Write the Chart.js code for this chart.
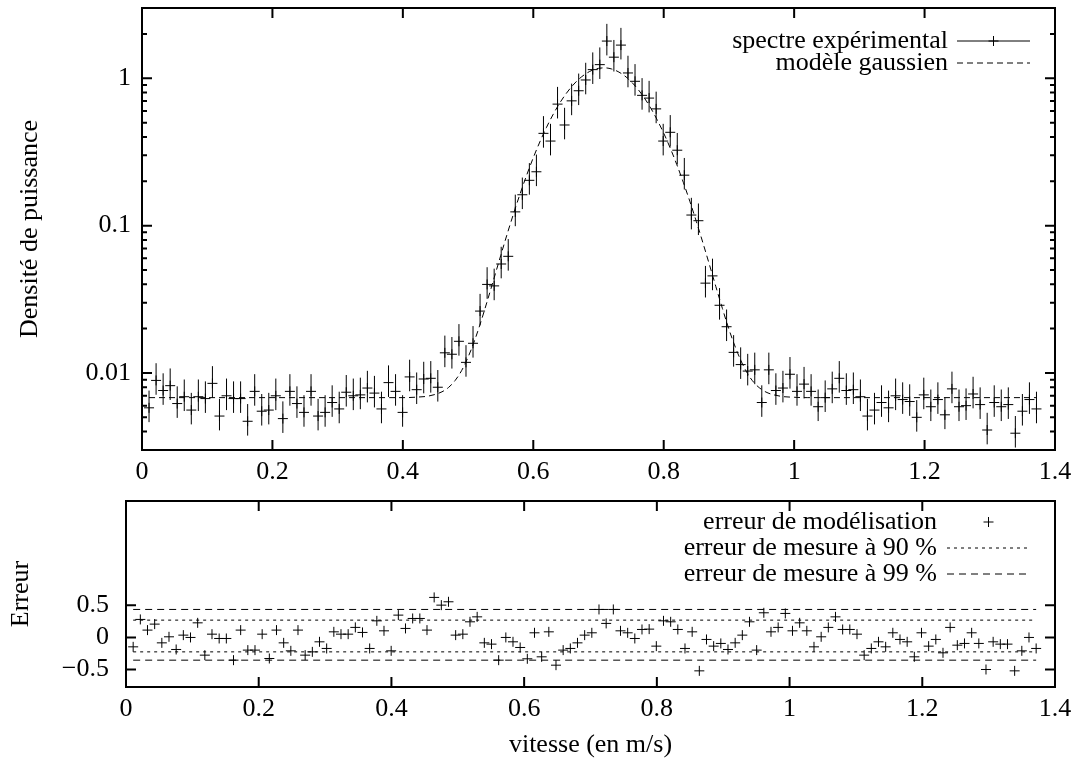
<!DOCTYPE html>
<html>
<head>
<meta charset="utf-8">
<script src="https://cdn.jsdelivr.net/npm/chart.js@4.4.1/dist/chart.umd.min.js"></script>
<style>
  html, body { margin: 0; padding: 0; background: #fff; }
  #wrap { position: relative; width: 1079px; height: 763px; }
  canvas { position: absolute; left: 0; }
  #spectre { top: 0; }
  #erreur { top: 490px; }
</style>
</head>
<body>
<div id="wrap">
  <canvas id="spectre" width="1079" height="490"></canvas>
  <canvas id="erreur" width="1079" height="273"></canvas>
</div>
<script>
// vitesse (m/s) of every spectral bin
const vitesse = [
  0.0108, 0.0216, 0.0324, 0.0432, 0.054, 0.0648, 0.0756, 0.0864, 0.0972, 0.108,
  0.1188, 0.1296, 0.1404, 0.1512, 0.162, 0.1728, 0.1836, 0.1944, 0.2052, 0.216,
  0.2268, 0.2376, 0.2484, 0.2592, 0.27, 0.2808, 0.2916, 0.3024, 0.3132, 0.324,
  0.3348, 0.3456, 0.3564, 0.3672, 0.378, 0.3888, 0.3996, 0.4104, 0.4212, 0.432,
  0.4428, 0.4536, 0.4644, 0.4752, 0.486, 0.4968, 0.5076, 0.5184, 0.5292, 0.54,
  0.5508, 0.5616, 0.5724, 0.5832, 0.594, 0.6048, 0.6156, 0.6264, 0.6372, 0.648,
  0.6588, 0.6696, 0.6804, 0.6912, 0.702, 0.7128, 0.7236, 0.7344, 0.7452, 0.756,
  0.7668, 0.7776, 0.7884, 0.7992, 0.81, 0.8208, 0.8316, 0.8424, 0.8532, 0.864,
  0.8748, 0.8856, 0.8964, 0.9072, 0.918, 0.9288, 0.9396, 0.9504, 0.9612, 0.972,
  0.9828, 0.9936, 1.0044, 1.0152, 1.026, 1.0368, 1.0476, 1.0584, 1.0692, 1.08,
  1.0908, 1.1016, 1.1124, 1.1232, 1.134, 1.1448, 1.1556, 1.1664, 1.1772, 1.188,
  1.1988, 1.2096, 1.2204, 1.2312, 1.242, 1.2528, 1.2636, 1.2744, 1.2852, 1.296,
  1.3068, 1.3176, 1.3284, 1.3392, 1.35, 1.3608, 1.3716
];

// measured power density
const spectre = [
  0.0058, 0.0089, 0.0076, 0.0082, 0.0062, 0.0069, 0.0056, 0.0069, 0.0067, 0.0085,
  0.0051, 0.0070, 0.0067, 0.0067, 0.0047, 0.0075, 0.0055, 0.0056, 0.0070, 0.0049,
  0.0075, 0.0062, 0.0054, 0.0075, 0.0051, 0.0054, 0.0063, 0.0057, 0.0074, 0.0070,
  0.0071, 0.0079, 0.0073, 0.0057, 0.0086, 0.0075, 0.0054, 0.0094, 0.0077, 0.0091,
  0.0092, 0.0080, 0.0137, 0.0134, 0.0164, 0.0118, 0.0159, 0.0263, 0.0399, 0.0390,
  0.0549, 0.0619, 0.124, 0.162, 0.203, 0.232, 0.423, 0.375, 0.668, 0.482,
  0.703, 0.823, 0.974, 1.145, 1.238, 1.789, 1.391, 1.68, 1.087, 0.954,
  0.766, 0.734, 0.620, 0.375, 0.430, 0.325, 0.220, 0.118, 0.108, 0.0407,
  0.0456, 0.0288, 0.0206, 0.0138, 0.0114, 0.0103, 0.0105, 0.0063, 0.0105, 0.0076,
  0.0079, 0.0098, 0.0075, 0.0084, 0.0075, 0.0059, 0.0068, 0.0078, 0.0092, 0.0076,
  0.0077, 0.0069, 0.0051, 0.0056, 0.0063, 0.0058, 0.0070, 0.0066, 0.0064, 0.0050,
  0.0071, 0.0059, 0.0066, 0.0052, 0.0078, 0.0059, 0.0060, 0.0072, 0.0061, 0.0041,
  0.0063, 0.0059, 0.0061, 0.0039, 0.0055, 0.0066, 0.0057
];

// gaussian model
const modeleX = [
  0.0108, 0.38, 0.40, 0.42, 0.44,
  0.46, 0.47, 0.48, 0.49, 0.50, 0.51, 0.52, 0.53, 0.54, 0.55,
  0.56, 0.57, 0.58, 0.59, 0.60, 0.61, 0.62, 0.63, 0.64, 0.65,
  0.66, 0.67, 0.68, 0.69, 0.70, 0.71, 0.72, 0.73, 0.74, 0.75,
  0.76, 0.77, 0.78, 0.79, 0.80, 0.81, 0.82, 0.83, 0.84, 0.85,
  0.86, 0.87, 0.88, 0.89, 0.90, 0.91, 0.92, 0.93, 0.94, 0.95,
  0.96, 0.98, 1.00, 1.02, 1.3716
];
const modeleY = [
  0.0068, 0.0068, 0.0068, 0.00685, 0.00698,
  0.00745, 0.00797, 0.00887, 0.01036, 0.0128, 0.01661, 0.0225, 0.03136, 0.0442, 0.06253,
  0.0878, 0.1215, 0.1655, 0.221, 0.289, 0.3695, 0.462, 0.564, 0.673, 0.783,
  0.890, 0.988, 1.070, 1.132, 1.168, 1.177, 1.157, 1.110, 1.040, 0.950,
  0.848, 0.739, 0.629, 0.522, 0.424, 0.336, 0.260, 0.197, 0.1465, 0.1068,
  0.0767, 0.0545, 0.0385, 0.0274, 0.0198, 0.0149, 0.0117, 0.00967, 0.00845, 0.00773,
  0.00731, 0.00694, 0.00684, 0.0068, 0.0068
];

// modelling error (log ratio data / model)
const erreur = [
  -0.146, 0.280, 0.114, 0.207, -0.084, 0.010, -0.187, 0.036, 0.000, 0.227,
  -0.275, 0.051, -0.016, -0.016, -0.353, 0.114, -0.197, -0.197, 0.051, -0.327,
  0.114, -0.084, -0.208, 0.114, -0.275, -0.224, -0.068, -0.171, 0.087, 0.051,
  0.051, 0.156, 0.078, -0.171, 0.258, 0.103, -0.208, 0.347, 0.140, 0.295,
  0.295, 0.114, 0.622, 0.502, 0.554, 0.036, 0.051, 0.243, 0.320, -0.084,
  -0.104, -0.353, 0.000, -0.068, -0.156, -0.332, 0.072, -0.301, 0.087, -0.431,
  -0.197, -0.171, -0.084, 0.036, 0.072, 0.435, 0.218, 0.435, 0.103, 0.072,
  -0.016, 0.124, 0.129, -0.135, 0.258, 0.243, 0.124, -0.171, 0.087, -0.519,
  -0.031, -0.135, -0.093, -0.187, -0.084, 0.036, 0.243, -0.197, 0.383, 0.087,
  0.156, 0.373, 0.103, 0.227, 0.103, -0.146, 0.010, 0.156, 0.320, 0.124,
  0.124, 0.051, -0.275, -0.171, -0.068, -0.146, 0.072, -0.031, -0.068, -0.301,
  0.072, -0.135, -0.031, -0.239, 0.156, -0.120, -0.093, 0.072, -0.093, -0.498,
  -0.068, -0.104, -0.104, -0.519, -0.208, 0.000, -0.171
];

// measurement error bounds (log ratio)
const mesure90 = [-0.224, 0.269];
const mesure99 = [-0.353, 0.435];

// axis ticks
const xTicks = [0, 0.2, 0.4, 0.6, 0.8, 1, 1.2, 1.4];
const yTicksSpectre = [0.01, 0.1, 1];
const yTicksErreur = [-0.5, 0, 0.5];

Chart.defaults.font.family = "'Liberation Serif', 'Times New Roman', serif";
Chart.defaults.font.size = 26;
Chart.defaults.color = '#000';

const FONT = "26px 'Liberation Serif', 'Times New Roman', serif";

// gnuplot style border with inward + mirrored ticks
const frame = {
  id: 'frame',
  afterDraw(chart) {
    const { ctx, chartArea: a, scales } = chart;
    ctx.save();
    ctx.strokeStyle = '#000';
    ctx.lineWidth = 2;
    ctx.strokeRect(a.left, a.top, a.right - a.left, a.bottom - a.top);
    ctx.beginPath();
    scales.x.ticks.forEach(t => {
      const px = scales.x.getPixelForValue(t.value);
      ctx.moveTo(px, a.bottom); ctx.lineTo(px, a.bottom - 10);
      ctx.moveTo(px, a.top); ctx.lineTo(px, a.top + 10);
    });
    scales.y.ticks.forEach(t => {
      const py = scales.y.getPixelForValue(t.value);
      const len = t.label ? 10 : 5;
      ctx.moveTo(a.left, py); ctx.lineTo(a.left + len, py);
      ctx.moveTo(a.right, py); ctx.lineTo(a.right - len, py);
    });
    ctx.stroke();
    ctx.restore();
  }
};

// vertical error bars on the spectrum
const errorBars = {
  id: 'errorBars',
  afterDatasetsDraw(chart) {
    const { ctx } = chart;
    chart.data.datasets.forEach((ds, i) => {
      if (!ds.bounds) return;
      const meta = chart.getDatasetMeta(i);
      const y = chart.scales.y;
      ctx.save();
      ctx.strokeStyle = '#000';
      ctx.lineWidth = 1;
      ctx.beginPath();
      ds.data.forEach((p, j) => {
        const px = meta.data[j].x;
        ctx.moveTo(px, y.getPixelForValue(p.y * Math.exp(ds.bounds[1])));
        ctx.lineTo(px, y.getPixelForValue(p.y * Math.exp(ds.bounds[0])));
      });
      ctx.stroke();
      ctx.restore();
    });
  }
};

// gnuplot style key: right aligned text, sample on the right
const key = {
  id: 'key',
  afterDraw(chart, args, opts) {
    const { ctx } = chart;
    ctx.save();
    ctx.font = FONT;
    ctx.fillStyle = '#000';
    ctx.strokeStyle = '#000';
    ctx.textAlign = 'right';
    ctx.textBaseline = 'middle';
    opts.rows.forEach((r, i) => {
      const ds = chart.data.datasets[r];
      const y = opts.top + i * opts.spacing;
      ctx.fillText(ds.label, opts.textRight, y);
      ctx.lineWidth = 1;
      if (ds.keyLine) {
        ctx.setLineDash(ds.borderDash || []);
        ctx.beginPath();
        ctx.moveTo(opts.x0, y); ctx.lineTo(opts.x1, y);
        ctx.stroke();
        ctx.setLineDash([]);
      }
      if (ds.pointRadius) {
        const cx = (opts.x0 + opts.x1) / 2, s = ds.pointRadius;
        ctx.beginPath();
        ctx.moveTo(cx - s, y); ctx.lineTo(cx + s, y);
        ctx.moveTo(cx, y - s); ctx.lineTo(cx, y + s);
        ctx.stroke();
      }
    });
    ctx.restore();
  }
};

function xScale(h, title) {
  return {
    type: 'linear', min: 0, max: 1.4,
    grid: { display: false, drawTicks: false }, border: { display: false },
    afterBuildTicks: s => { s.ticks = xTicks.map(v => ({ value: v })); },
    ticks: { padding: 7, maxRotation: 0, autoSkip: false, callback: v => String(v) },
    title: title ? { display: true, text: title, padding: { top: 0, bottom: 2 } } : { display: false },
    afterFit: s => { s.height = h; s.paddingLeft = 0; s.paddingRight = 0; }
  };
}

new Chart(document.getElementById('spectre'), {
  type: 'scatter',
  data: {
    datasets: [
      {
        label: 'spectre expérimental',
        data: vitesse.map((x, i) => ({ x, y: spectre[i] })),
        pointStyle: 'cross', pointRadius: 5, borderColor: '#000', borderWidth: 1,
        bounds: mesure90, keyLine: true
      },
      {
        label: 'modèle gaussien',
        data: modeleX.map((x, i) => ({ x, y: modeleY[i] })),
        showLine: true, keyLine: true, pointRadius: 0, borderColor: '#000', borderWidth: 1,
        borderDash: [6, 4], cubicInterpolationMode: 'monotone'
      }
    ]
  },
  options: {
    responsive: false, animation: false, devicePixelRatio: 1,
    layout: { padding: { left: 0, right: 24, top: 8, bottom: 0 } },
    plugins: {
      legend: { display: false }, tooltip: { enabled: false },
      key: { rows: [0, 1], top: 41, spacing: 22, textRight: 948, x0: 957, x1: 1030 }
    },
    scales: {
      x: xScale(40),
      y: {
        type: 'logarithmic', min: 0.003, max: 3,
        grid: { display: false, drawTicks: false }, border: { display: false },
        afterBuildTicks: s => {
          const t = [];
          [0.001, 0.01, 0.1, 1].forEach(d => {
            for (let m = 1; m <= 9; m++) {
              const v = +(m * d).toPrecision(3);
              if (v >= 0.003 && v <= 3) t.push({ value: v });
            }
          });
          s.ticks = t;
        },
        ticks: { padding: 11, autoSkip: false, callback: v => yTicksSpectre.includes(v) ? String(v) : '' },
        title: { display: true, text: 'Densité de puissance', padding: { top: 15 } },
        afterFit: s => { s.width = 142; s.paddingTop = 0; s.paddingBottom = 0; }
      }
    }
  },
  plugins: [errorBars, frame, key]
});

const x0 = vitesse[0], x1 = vitesse[vitesse.length - 1];
new Chart(document.getElementById('erreur'), {
  type: 'scatter',
  data: {
    datasets: [
      {
        label: 'erreur de modélisation',
        data: vitesse.map((x, i) => ({ x, y: erreur[i] })),
        pointStyle: 'cross', pointRadius: 5, borderColor: '#000', borderWidth: 1
      },
      {
        label: 'erreur de mesure à 90 %',
        data: [{ x: x0, y: mesure90[1] }, { x: x1, y: mesure90[1] }],
        showLine: true, keyLine: true, pointRadius: 0, borderColor: '#000', borderWidth: 1, borderDash: [3, 4]
      },
      {
        label: 'erreur de mesure à 99 %',
        data: [{ x: x0, y: mesure99[1] }, { x: x1, y: mesure99[1] }],
        showLine: true, keyLine: true, pointRadius: 0, borderColor: '#000', borderWidth: 1, borderDash: [7, 5]
      },
      {
        label: 'erreur de mesure à 90 %',
        data: [{ x: x0, y: mesure90[0] }, { x: x1, y: mesure90[0] }],
        showLine: true, pointRadius: 0, borderColor: '#000', borderWidth: 1, borderDash: [3, 4]
      },
      {
        label: 'erreur de mesure à 99 %',
        data: [{ x: x0, y: mesure99[0] }, { x: x1, y: mesure99[0] }],
        showLine: true, pointRadius: 0, borderColor: '#000', borderWidth: 1, borderDash: [7, 5]
      }
    ]
  },
  options: {
    responsive: false, animation: false, devicePixelRatio: 1,
    layout: { padding: { left: 0, right: 24, top: 11, bottom: 0 } },
    plugins: {
      legend: { display: false }, tooltip: { enabled: false },
      key: { rows: [0, 1, 2], top: 32, spacing: 26, textRight: 937, x0: 947, x1: 1030 }
    },
    scales: {
      x: xScale(76, 'vitesse (en m/s)'),
      y: {
        type: 'linear', min: -0.77, max: 2.12,
        grid: { display: false, drawTicks: false }, border: { display: false },
        afterBuildTicks: s => { s.ticks = yTicksErreur.map(v => ({ value: v })); },
        ticks: { padding: 17, autoSkip: false, callback: v => v < 0 ? '\u2212' + Math.abs(v) : String(v) },
        title: { display: true, text: 'Erreur', padding: { top: 6 } },
        afterFit: s => { s.width = 126; s.paddingTop = 0; s.paddingBottom = 0; }
      }
    }
  },
  plugins: [frame, key]
});
</script>
</body>
</html>
